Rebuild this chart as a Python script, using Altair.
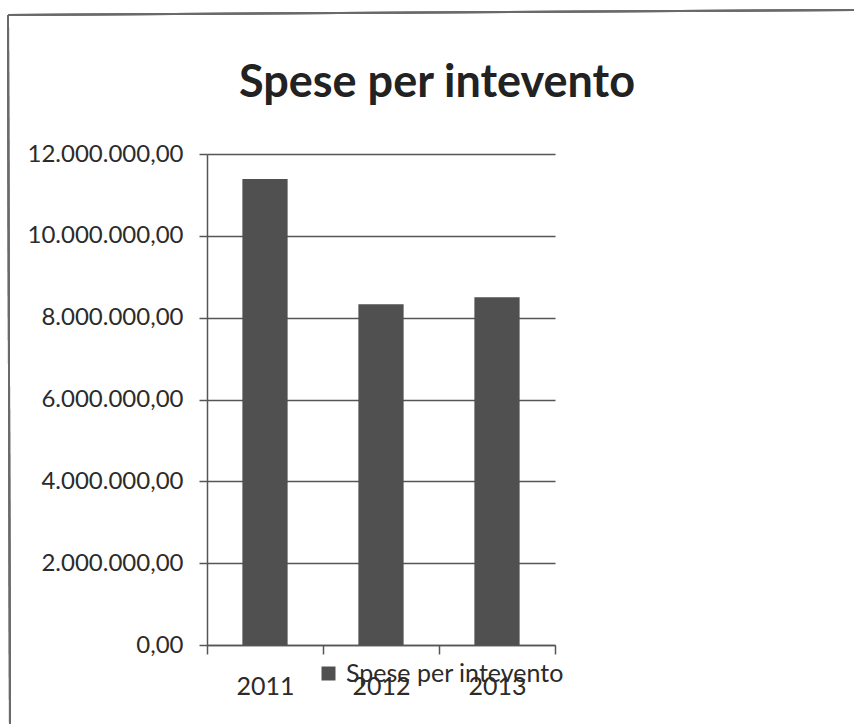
import altair as alt
import pandas as pd

years = ["2011", "2012", "2013"]
values = [11390000, 8330000, 8500000]
series = "Spese per intevento"
title_text = "Spese per intevento"
y_ticks = [0, 2000000, 4000000, 6000000, 8000000, 10000000, 12000000]

df = pd.DataFrame({"anno": years, "spese": values, "serie": [series] * len(years)})

FONT = "Lato"
INK = "#2b2b2b"
LINE = "#555555"

label_expr = (
    "replace(replace(replace(format(datum.value, ',.2f'), regexp(',', 'g'), '_'), '.', ','), regexp('_', 'g'), '.')"
)

bars = alt.Chart(df).mark_bar(width=alt.RelativeBandSize(0.39)).encode(
    x=alt.X(
        "anno:N",
        sort=years,
        scale=alt.Scale(paddingInner=0, paddingOuter=0),
        axis=alt.Axis(
            title=None,
            labelAngle=0,
            tickBand="extent",
            tickSize=9,
            tickColor=LINE,
            tickWidth=1.5,
            domainColor=LINE,
            domainWidth=1.5,
            labelFont=FONT,
            labelFontSize=25,
            labelColor=INK,
            labelPadding=20,
            grid=False,
        ),
    ),
    y=alt.Y(
        "spese:Q",
        scale=alt.Scale(domain=[0, 12000000], nice=False),
        axis=alt.Axis(
            title=None,
            values=y_ticks,
            labelExpr=label_expr,
            tickSize=8,
            tickColor=LINE,
            tickWidth=1.5,
            domainColor=LINE,
            domainWidth=1.5,
            grid=True,
            gridColor=LINE,
            gridWidth=1.5,
            labelFont=FONT,
            labelFontSize=24,
            labelColor=INK,
            labelPadding=16,
        ),
    ),
    color=alt.Color(
        "serie:N",
        scale=alt.Scale(range=["#505050"]),
        legend=alt.Legend(
            orient="none",
            legendX=109,
            legendY=507,
            title=None,
            symbolType="square",
            symbolSize=196,
            symbolStrokeWidth=0,
            labelFont=FONT,
            labelFontSize=25,
            labelColor=INK,
            labelOffset=5,
            labelLimit=0,
            padding=0,
        ),
    ),
)

# decorative frame of the scanned chart area (left and top edges)
frame_left = alt.Chart(df).mark_rule(color="#6a6a6a", strokeWidth=2).encode(
    x=alt.value(-199), x2=alt.value(-197), y=alt.value(-139), y2=alt.value(575)
)
frame_top = alt.Chart(df).mark_rule(color="#6a6a6a", strokeWidth=2).encode(
    x=alt.value(-199), x2=alt.value(650), y=alt.value(-139), y2=alt.value(-144)
)

chart = alt.layer(bars, frame_left, frame_top).properties(
    width=348,
    height=491,
    padding={"left": 207, "top": 154, "right": 299, "bottom": 79},
    autosize=alt.AutoSizeParams(type="none"),
    background="white",
    title=alt.TitleParams(
        text=title_text,
        font=FONT,
        fontSize=45,
        fontWeight="bold",
        color="#222222",
        anchor="middle",
        dx=56,
        dy=133,
        offset=0,
        baseline="alphabetic",
    ),
).configure_view(stroke=None)

chart.save("out.html", embed_options={"renderer": "svg", "actions": False})
